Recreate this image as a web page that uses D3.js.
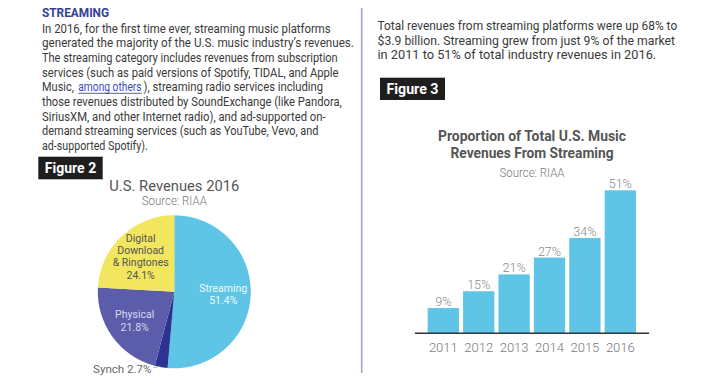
<!DOCTYPE html>
<html>
<head>
<meta charset="utf-8">
<script src="https://cdn.jsdelivr.net/npm/d3@7"></script>
<style>
  body { margin: 0; background: #fff; }
  text { font-family: "Roboto", "Liberation Sans", sans-serif; }
</style>
</head>
<body>
<div id="chart"></div>
<script>
// left column copy; each line is a list of [text, x, width, isLink] runs
const leftHeading = 'STREAMING';
const leftLines = [
  [['In 2016, for the first time ever, streaming music platforms', 42, 289]],
  [['generated the majority of the U.S. music industry\u2019s revenues.', 42, 312]],
  [['The streaming category includes revenues from subscription', 42, 296]],
  [['services (such as paid versions of Spotify, TIDAL, and Apple', 42, 297]],
  [['Music,', 42, 32], ['among others', 78.3, 63.4, true], ['), streaming radio services including', 143.5, 179.8]],
  [['those revenues distributed by SoundExchange (like Pandora,', 42, 300]],
  [['SiriusXM, and other Internet radio), and ad-supported on-', 42, 284]],
  [['demand streaming services (such as YouTube, Vevo, and', 42, 277]],
  [['ad-supported Spotify).', 42, 106]]
];

// right column copy
const rightLines = [
  'Total revenues from streaming platforms were up 68% to',
  '$3.9 billion. Streaming grew from just 9% of the market',
  'in 2011 to 51% of total industry revenues in 2016.'
];
const rightWidths = [300, 298, 279];

// figure 2 : pie
const pieTitle = 'U.S. Revenues 2016';
const pieSource = 'Source: RIAA';
const pieCategories = ['Streaming', 'Synch', 'Physical', 'Digital Download & Ringtones'];
const pieValues = [51.4, 2.7, 21.8, 24.1];
const pieLabelLines = [['Streaming', '51.4%'], ['Synch 2.7%'], ['Physical', '21.8%'], ['Digital', 'Download', '& Ringtones', '24.1%']];

// figure 3 : bars
const barTitle = ['Proportion of Total U.S. Music', 'Revenues From Streaming'];
const barSource = 'Source: RIAA';
const years = ['2011', '2012', '2013', '2014', '2015', '2016'];
const shares = [9, 15, 21, 27, 34, 51];

const width = 722, height = 377;
const svg = d3.select('#chart').append('svg')
    .attr('width', width)
    .attr('height', height);

svg.append('rect').attr('width', width).attr('height', height).attr('fill', '#fff');

// squeeze a text horizontally to a given width (keeps its height)
function fitText(t, x0, y0, w) {
    const natural = t.node().getComputedTextLength();
    const k = natural > 0 ? w / natural : 1;
    t.attr('x', 0).attr('y', 0)
        .attr('transform', 'translate(' + x0 + ',' + y0 + ') scale(' + k + ',1)');
}

// ---- left text
svg.append('text')
    .attr('x', 42).attr('y', 17)
    .attr('fill', '#34409a')
    .attr('font-size', 13.5)
    .attr('font-weight', 'bold')
    .attr('textLength', 67).attr('lengthAdjust', 'spacingAndGlyphs')
    .text(leftHeading);

leftLines.forEach(function(runs, i) {
    const by = 32.5 + i * 14.7;
    runs.forEach(function(r) {
        const t = svg.append('text')
            .attr('fill', r[3] ? '#3c4db5' : '#3a3a3a')
            .attr('font-size', 12.5)
            .text(r[0]);
        fitText(t, r[1], by, r[2]);
        if (r[3]) {
            svg.append('line')
                .attr('x1', r[1]).attr('x2', r[1] + r[2])
                .attr('y1', by + 2).attr('y2', by + 2)
                .attr('stroke', '#3c4db5').attr('stroke-width', 0.9);
        }
    });
});

// divider
svg.append('line')
    .attr('x1', 361.7).attr('x2', 361.7)
    .attr('y1', 8).attr('y2', 373)
    .attr('stroke', '#a3a3c9').attr('stroke-width', 1.6);

// ---- right text
rightLines.forEach(function(line, i) {
    const t = svg.append('text')
        .attr('fill', '#3a3a3a')
        .attr('font-size', 12.5)
        .text(line);
    fitText(t, 377.5, 30 + i * 14.6, rightWidths[i]);
});

function figureTag(x, y, w, h, label) {
    svg.append('rect')
        .attr('x', x).attr('y', y).attr('width', w).attr('height', h)
        .attr('fill', '#1e1e1e');
    svg.append('text')
        .attr('x', x + w / 2).attr('y', y + h / 2 + 5)
        .attr('text-anchor', 'middle')
        .attr('fill', '#fff')
        .attr('font-size', 14.5)
        .attr('font-weight', 'bold')
        .attr('textLength', w - 13).attr('lengthAdjust', 'spacingAndGlyphs')
        .text(label);
}

figureTag(38.3, 156.7, 64.4, 22.6, 'Figure 2');
figureTag(380, 77.7, 65, 22.3, 'Figure 3');

// ---- pie
const pcx = 174.3, pcy = 291.8, pr = 76.5;
const pieColors = d3.scaleOrdinal()
    .domain(pieCategories)
    .range(['#5ec5e6', '#2c3390', '#5b5caa', '#f1e65e']);
const labelColors = ['#eef9fd', '#666', '#d8d8f2', '#555'];

svg.append('text')
    .attr('x', pcx).attr('y', 190.5)
    .attr('text-anchor', 'middle')
    .attr('fill', '#555').attr('font-size', 15.5)
    .attr('textLength', 130).attr('lengthAdjust', 'spacingAndGlyphs')
    .text(pieTitle);
svg.append('text')
    .attr('x', pcx).attr('y', 204.5)
    .attr('text-anchor', 'middle')
    .attr('fill', '#777').attr('font-size', 12).attr('font-weight', 300)
    .attr('textLength', 65).attr('lengthAdjust', 'spacingAndGlyphs')
    .text(pieSource);

const pie = d3.pie().sort(null).value(function(d) { return d; });
const arcs = pie(pieValues);
const arc = d3.arc().innerRadius(0).outerRadius(pr);
const labelArc = d3.arc().innerRadius(49).outerRadius(49);
const edgeArc = d3.arc().innerRadius(pr - 1).outerRadius(pr - 1);

const pg = svg.append('g').attr('transform', 'translate(' + pcx + ',' + pcy + ')');
pg.selectAll('path')
    .data(arcs)
    .enter().append('path')
    .attr('d', arc)
    .attr('fill', function(d, i) { return pieColors(pieCategories[i]); });

arcs.forEach(function(d, i) {
    const lines = pieLabelLines[i];
    if (i === 1) {
        // small outside label with leader
        const e = edgeArc.centroid(d);
        pg.append('line')
            .attr('x1', e[0] - 1).attr('y1', e[1])
            .attr('x2', e[0] - 8).attr('y2', e[1] + 1.5)
            .attr('stroke', '#999').attr('stroke-width', 0.8);
        pg.append('text')
            .attr('x', e[0] - 10).attr('y', e[1] + 7)
            .attr('text-anchor', 'end')
            .attr('fill', labelColors[i]).attr('font-size', 11.5)
            .text(lines[0]);
        return;
    }
    const c = labelArc.centroid(d);
    const lh = 12.3;
    const top = c[1] - (lines.length - 1) * lh / 2 + 4;
    lines.forEach(function(l, j) {
        pg.append('text')
            .attr('x', c[0]).attr('y', top + j * lh)
            .attr('text-anchor', 'middle')
            .attr('fill', labelColors[i]).attr('font-size', 10.5)
            .text(l);
    });
});

// ---- bars
const x = d3.scaleBand()
    .domain(years)
    .range([425.6, 638])
    .paddingInner(0.116)
    .paddingOuter(0.058);
const y = d3.scaleLinear()
    .domain([0, 51])
    .range([333.3, 190.3]);

barTitle.forEach(function(t, i) {
    svg.append('text')
        .attr('x', 532).attr('y', 140.5 + i * 17.5)
        .attr('text-anchor', 'middle')
        .attr('fill', '#555').attr('font-size', 15)
        .attr('font-weight', 'bold')
        .attr('textLength', i === 0 ? 188 : 163).attr('lengthAdjust', 'spacingAndGlyphs')
        .text(t);
});
svg.append('text')
    .attr('x', 532).attr('y', 176.5)
    .attr('text-anchor', 'middle')
    .attr('fill', '#777').attr('font-size', 12).attr('font-weight', 300)
    .attr('textLength', 65).attr('lengthAdjust', 'spacingAndGlyphs')
    .text(barSource);

const bars = svg.append('g');
bars.selectAll('rect')
    .data(shares)
    .enter().append('rect')
    .attr('x', function(d, i) { return x(years[i]); })
    .attr('y', function(d) { return y(d); })
    .attr('width', x.bandwidth())
    .attr('height', function(d) { return y(0) - y(d); })
    .attr('fill', '#5ec5e6');

bars.selectAll('.val')
    .data(shares)
    .enter().append('text')
    .attr('class', 'val')
    .attr('x', function(d, i) { return x(years[i]) + x.bandwidth() / 2; })
    .attr('y', function(d) { return y(d) - 2; })
    .attr('text-anchor', 'middle')
    .attr('fill', '#888').attr('font-size', 12.5).attr('font-weight', 300)
    .text(function(d) { return d + '%'; });

const axis = svg.append('g')
    .attr('transform', 'translate(0,' + y(0) + ')')
    .call(d3.axisBottom(x).tickSize(0).tickPadding(9));
axis.select('.domain').remove();
axis.selectAll('text')
    .attr('fill', '#777').attr('font-size', 13).attr('font-weight', 300);
svg.append('line')
    .attr('x1', 415).attr('x2', 649)
    .attr('y1', y(0)).attr('y2', y(0))
    .attr('stroke', '#333').attr('stroke-width', 1.5);
</script>
</body>
</html>
